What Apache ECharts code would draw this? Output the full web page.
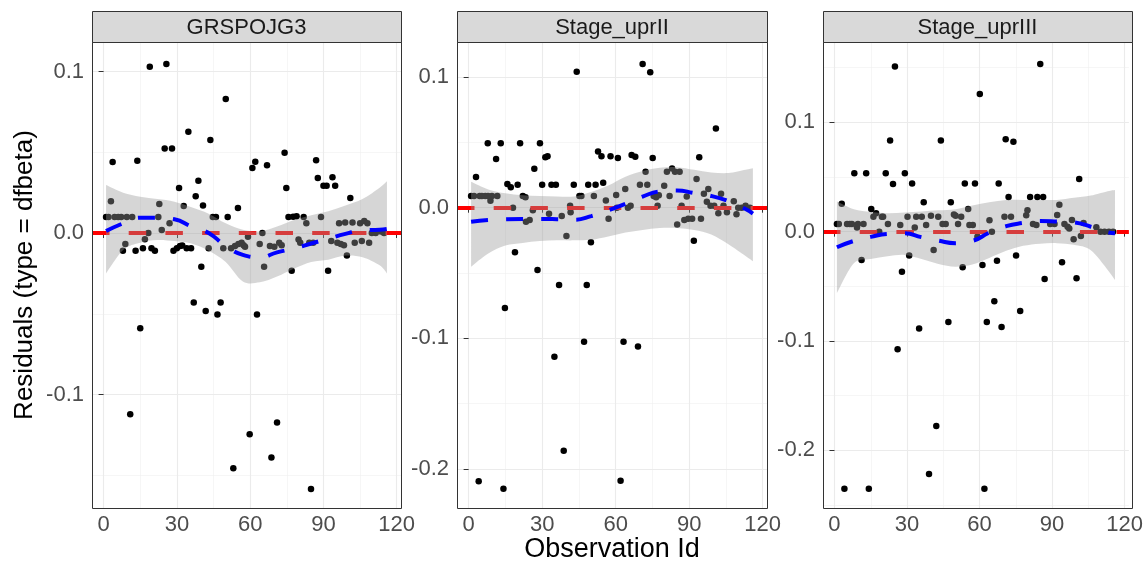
<!DOCTYPE html>
<html>
<head>
<meta charset="utf-8">
<script src="https://cdn.jsdelivr.net/npm/echarts@6/dist/echarts.min.js"></script>
<style>
html,body{margin:0;padding:0;background:#fff;}
#chart{width:1146px;height:565px;}
</style>
</head>
<body>
<div id="chart"></div>
<script>
// ---------- data ----------
const panelTitles = ['GRSPOJG3', 'Stage_uprII', 'Stage_uprIII'];
const xTicks = [0, 30, 60, 90, 120];
const xMinorTicks = [15, 45, 75, 105];
const xLimits = [-4.75, 121.75];

const yLimits1 = [-0.1703, 0.1183];
const yLimits2 = [-0.2298, 0.1268];
const yLimits3 = [-0.2528, 0.1735];
const yTicks1 = [-0.1, 0, 0.1];
const yTicks2 = [-0.2, -0.1, 0, 0.1];
const yTicks3 = [-0.2, -0.1, 0, 0.1];
const yMinor1 = [-0.15, -0.05, 0.05];
const yMinor2 = [-0.15, -0.05, 0.05];
const yMinor3 = [-0.25, -0.15, -0.05, 0.05, 0.15];

const points1 = [
[18.9,0.103],[25.7,0.1046],[50,0.083],[34.7,0.0627],[43.7,0.0576],[25,0.0524],[28,0.0524],[3.7,0.044],[13.8,0.0448],[74.1,0.0497],
[62.1,0.0442],[60.9,0.0402],[66.9,0.042],[87,0.045],[87.7,0.034],[93.7,0.0345],[90,0.0293],[91.3,0.0293],[94.8,0.0293],[101,0.0217],
[74.8,0.0279],[30.9,0.0279],[37.7,0.0227],[38.8,0.0324],[40.7,0.0171],[32.8,0.0167],[22.8,0.018],[3,0.0196],[55,0.0155],[50.8,0.0099],
[1,0.0099],[2,0.0099],[4.5,0.0099],[6,0.0099],[7.2,0.0099],[9.5,0.0099],[11.7,0.0099],
[22.4,0.0099],[44.7,0.0099],[46,0.0099],[75.7,0.0099],[77.6,0.0101],[79,0.0104],[81.9,0.0099],[89,0.0099],
[27,0.006],[23.8,0.0019],[18.3,0],[83,0.006],
[96.4,0.006],[98.9,0.0065],[101.9,0.0065],[105,0.006],[106.7,0.0075],[108,0.006],
[109.8,0],[111.4,0],[113.5,0.001],[114.8,0],[65,0],[59.1,-0.0023],
[7.9,-0.011],[8.9,-0.0068],[13.1,-0.011],[16.1,-0.0095],[16.9,-0.0039],[19.6,-0.0095],[21,-0.011],
[28.6,-0.011],[30,-0.0095],[31.3,-0.008],[32.2,-0.0078],[34,-0.0095],[35.8,-0.0095],[43,-0.0095],
[49,-0.0095],[52.2,-0.0095],[53.8,-0.008],[55.2,-0.0068],[56.5,-0.006],[57.3,-0.0075],[57.9,-0.0085],
[63.9,-0.0068],[68.1,-0.008],[69.9,-0.0085],[71.9,-0.006],[72.9,-0.0075],
[79.8,-0.004],[80.5,-0.006],[84.2,-0.006],[85.8,-0.006],
[93.2,-0.005],[95.7,-0.006],[97.1,-0.0068],[98.4,-0.0075],
[102.8,-0.006],[105.7,-0.005],[108.7,-0.006],
[99.6,-0.014],[40,-0.0209],[65.7,-0.0209],[77,-0.0233],[91.9,-0.0233],
[36.9,-0.0431],[47.9,-0.0431],[41.8,-0.0483],[46.6,-0.0504],[62.8,-0.0504],[15,-0.059],
[10.9,-0.1123],[71,-0.1174],[59.8,-0.1247],[68.7,-0.139],[53.1,-0.1457],[84.9,-0.1585]
];

const points2 = [
[71,0.11],[74.1,0.1036],[44.1,0.104],[100.9,0.0607],
[7.8,0.0493],[13.1,0.0493],[21,0.0493],[29.1,0.0493],[11.2,0.0373],[31.3,0.0386],[32.2,0.0393],[3,0.0235],[26.8,0.0298],
[52.8,0.0431],[54.2,0.0393],[57.9,0.0393],[60.9,0.038],[66.5,0.0403],[68,0.039],[75.1,0.038],[94.1,0.0386],
[15.8,0.0181],[17.2,0.0156],[20,0.0176],[30,0.0176],[33.8,0.0176],[35.6,0.0176],[42.9,0.0176],[48.8,0.0176],[51.8,0.0176],[54.9,0.019],
[72.2,0.0275],[69.9,0.0176],[72.9,0.0176],[63.9,0.0143],[79.8,0.0168],[80.9,0.0275],[83,0.03],[84.2,0.0275],[86.1,0.0275],[93,0.022],[97.8,0.0143],
[60.2,0.0097],[56,0.0056],[51.1,0.009],[45.2,0.009],[46,0.009],[41.6,-0.0035],[41.4,0.0015],[22.1,0.009],[23.2,0.008],
[1,0.009],[2.2,0.009],[4.5,0.009],[5.4,0.009],[6.8,0.009],[7.9,0.009],[9.5,0.009],[11.7,0.009],
[8.9,0.0053],[18.1,0],[26.2,-0.002],[23.4,-0.0107],[24.9,-0.0094],[32.8,-0.0046],[38,-0.0064],[39.9,-0.0217],[49.9,-0.0265],[18.9,-0.0341],[57.1,-0.0084],
[65,0],[66.1,0.0015],[60.5,0],[75.5,0.009],[76.5,0.008],[77.6,0.0095],[77.1,0.0015],[82,0.009],[86.9,0.0015],[89,0.0085],[85.1,-0.0128],[88,-0.0094],[89.6,-0.0084],[91.2,-0.0084],[94.8,-0.0084],[91.9,-0.0252],
[96,0.0107],[97.2,0.0046],[98.7,0.0015],[100.2,0.0015],[103,0.0107],[101.9,-0.0043],[104,0.0015],[105.4,-0.0035],[108.2,0.005],[109.3,-0.005],[110,0],[111.4,0],[113,0.0015],[114.8,0],
[28.1,-0.0477],[36.9,-0.0591],[48.2,-0.0591],[14.8,-0.0767],[47.1,-0.1025],[63.2,-0.1025],[69.1,-0.1063],[35,-0.114],[38.8,-0.186],[4.1,-0.2093],[14.2,-0.215],[62,-0.2089]
];

const points3 = [
[25,0.151],[85.1,0.1534],[60.1,0.126],[23,0.0833],[44,0.0833],[70.8,0.0845],[74,0.0823],
[8.2,0.0534],[13.1,0.0534],[21.2,0.0534],[29.1,0.0534],[24.2,0.0436],[32.1,0.044],[53.9,0.044],[58.1,0.044],[67.9,0.044],[101.2,0.0482],
[3,0.0256],[36.9,0.0269],[48.1,0.0269],[55.3,0.0208],[72,0.0317],[80.9,0.0317],[83.9,0.0317],[86.3,0.0317],[93,0.0247],
[15.2,0.0208],[17.2,0.0168],[16.1,0.0137],[19.6,0.0137],[20.1,0.0137],
[30.2,0.0137],[33.8,0.0137],[36.1,0.0137],[39.9,0.0145],[42.9,0.0137],[49.4,0.0158],[50.1,0.0145],[52.4,0.0137],
[64.1,0.0104],[70.3,0.0137],[73,0.0137],[79.8,0.0195],[79.3,0.015],[92.1,0.0152],[98.2,0.0107],
[1,0.007],[1.8,0.007],[5.2,0.007],[6.3,0.007],[7.2,0.007],[9.7,0.007],[12,0.007],[9.3,0.0037],
[22.1,0.007],[27.2,0.006],[37.9,0.006],[44.7,0.007],[46,0.007],[51.1,0.007],[55.8,0.006],[57.2,0.006],
[82.1,0.007],[83.5,0.006],[89.2,0.007],[91,0.007],[95.1,0.007],[96.4,0.0045],[97.1,0.003],[103,0.008],[108.3,0.004],
[110,0],[111.7,0],[113.5,0],[115.2,0],[18.5,0],[33.2,0.0037],[59.1,-0.0046],[65.1,0],[101.9,-0.004],[98.9,-0.007],
[41,-0.0167],[11.2,-0.0259],[30.9,-0.0219],[67.2,-0.0265],[75.1,-0.0219],[61.2,-0.0305],[94.1,-0.028],[53,-0.0326],
[27.9,-0.0366],[86.9,-0.0433],[100.1,-0.0427],[66.1,-0.0637],[76.8,-0.0726],[47.1,-0.0826],[63,-0.0826],[69.1,-0.0872],[35,-0.0887],
[26.1,-0.1076],[42.1,-0.1778],[39.1,-0.2217],[4.1,-0.2351],[14.2,-0.2351],[62,-0.2351]
];

// smoother (loess) fit and confidence band, read at these x positions
const smoothX = [1, 8, 15, 22, 29, 36, 43, 50, 57, 64, 71, 78, 85, 92, 99, 106, 113, 116];
const fit1 = [0.0012, 0.006, 0.0095, 0.0095, 0.0085, 0.004, 0.0, -0.008, -0.0135, -0.015, -0.012, -0.0095, -0.0065, -0.0035, -0.0005, 0.0017, 0.002, 0.0025];
const hi1  = [0.0297, 0.025, 0.0225, 0.021, 0.0194, 0.016, 0.012, 0.006, 0.002, 0.001, 0.004, 0.008, 0.011, 0.0135, 0.017, 0.021, 0.028, 0.032];
const lo1  = [-0.025, -0.0105, -0.006, -0.0043, -0.005, -0.0065, -0.011, -0.018, -0.03, -0.0305, -0.027, -0.022, -0.018, -0.0165, -0.014, -0.015, -0.02, -0.025];
const fit2 = [-0.0107, -0.0094, -0.0088, -0.0086, -0.0086, -0.0088, -0.0092, -0.0065, -0.002, 0.003, 0.0085, 0.0125, 0.0132, 0.0112, 0.009, 0.005, -0.001, -0.0045];
const hi2  = [0.0199, 0.014, 0.011, 0.0095, 0.009, 0.0086, 0.0086, 0.012, 0.017, 0.0237, 0.028, 0.0305, 0.031, 0.029, 0.027, 0.0265, 0.029, 0.0301];
const lo2  = [-0.0451, -0.035, -0.029, -0.027, -0.0255, -0.025, -0.025, -0.0245, -0.022, -0.019, -0.017, -0.0155, -0.0155, -0.017, -0.0205, -0.028, -0.037, -0.041];
const fit3 = [-0.0143, -0.0085, -0.0048, -0.002, -0.0015, -0.005, -0.0082, -0.0105, -0.0085, -0.001, 0.005, 0.008, 0.0098, 0.0093, 0.0085, 0.0045, -0.0005, -0.0015];
const hi3  = [0.0275, 0.0205, 0.018, 0.0168, 0.0175, 0.0185, 0.0195, 0.0205, 0.024, 0.027, 0.029, 0.029, 0.029, 0.029, 0.031, 0.033, 0.037, 0.0381];
const lo3  = [-0.0564, -0.029, -0.025, -0.0225, -0.0213, -0.025, -0.0295, -0.032, -0.03, -0.024, -0.0175, -0.013, -0.011, -0.0105, -0.012, -0.017, -0.035, -0.0442];

const xTitle = 'Observation Id';
const yTitle = 'Residuals (type = dfbeta)';

// ---------- layout ----------
const FONT = '"Liberation Sans", Arial, Helvetica, sans-serif';
const gridTop = 42, gridHeight = 466, stripTop = 11, stripH = 31;
const gridBoxes = [{left: 92, width: 309}, {left: 457, width: 310}, {left: 823, width: 309}];

const panels = [
  {title: panelTitles[0], pts: points1, fit: fit1, hi: hi1, lo: lo1, yLim: yLimits1, yT: yTicks1, yM: yMinor1},
  {title: panelTitles[1], pts: points2, fit: fit2, hi: hi2, lo: lo2, yLim: yLimits2, yT: yTicks2, yM: yMinor2},
  {title: panelTitles[2], pts: points3, fit: fit3, hi: hi3, lo: lo3, yLim: yLimits3, yT: yTicks3, yM: yMinor3}
];

// Catmull-Rom spline through pixel points -> SVG path segments
function splineSegs(pts) {
  let d = '';
  for (let i = 0; i < pts.length - 1; i++) {
    const p0 = pts[Math.max(i - 1, 0)], p1 = pts[i], p2 = pts[i + 1], p3 = pts[Math.min(i + 2, pts.length - 1)];
    const c1x = p1[0] + (p2[0] - p0[0]) / 6, c1y = p1[1] + (p2[1] - p0[1]) / 6;
    const c2x = p2[0] - (p3[0] - p1[0]) / 6, c2y = p2[1] - (p3[1] - p1[1]) / 6;
    d += ' C ' + c1x + ' ' + c1y + ' ' + c2x + ' ' + c2y + ' ' + p2[0] + ' ' + p2[1];
  }
  return d;
}

const grid = [], xAxis = [], yAxis = [], series = [], graphic = [];

panels.forEach((p, i) => {
  const g = gridBoxes[i];
  grid.push({left: g.left, top: gridTop, width: g.width, height: gridHeight, containLabel: false});
  xAxis.push({
    type: 'value', gridIndex: i, min: xLimits[0], max: xLimits[1],
    splitLine: {show: false}, axisLine: {show: false},
    axisTick: {show: true, length: 5, lineStyle: {color: '#333333', width: 1}, customValues: xTicks},
    axisLabel: {show: true, customValues: xTicks, color: '#4D4D4D', fontSize: 22, fontFamily: FONT, margin: 6,
      formatter: v => String(Math.round(v))}
  });
  yAxis.push({
    type: 'value', gridIndex: i, min: p.yLim[0], max: p.yLim[1],
    splitLine: {show: false}, axisLine: {show: false},
    axisTick: {show: true, length: 5, lineStyle: {color: '#333333', width: 1}, customValues: p.yT},
    axisLabel: {show: true, customValues: p.yT, color: '#4D4D4D', fontSize: 22, fontFamily: FONT, margin: 8,
      formatter: v => (Math.abs(v) < 1e-9 ? 0 : v).toFixed(1)}
  });

  const majorStyle = {color: '#EBEBEB', width: 1.1, type: 'solid'};
  const minorStyle = {color: '#F0F0F0', width: 0.6, type: 'solid'};
  const gridLines = []
    .concat(xMinorTicks.map(v => ({xAxis: v, lineStyle: minorStyle})))
    .concat(p.yM.map(v => ({yAxis: v, lineStyle: minorStyle})))
    .concat(xTicks.map(v => ({xAxis: v, lineStyle: majorStyle})))
    .concat(p.yT.map(v => ({yAxis: v, lineStyle: majorStyle})));

  // grid lines
  series.push({
    type: 'line', xAxisIndex: i, yAxisIndex: i, data: [], silent: true, z: 0,
    markLine: {silent: true, z: 0, symbol: ['none', 'none'], label: {show: false}, animation: false,
      emphasis: {disabled: true}, data: gridLines}
  });
  // points
  series.push({
    type: 'scatter', xAxisIndex: i, yAxisIndex: i, data: p.pts, symbolSize: 6.5, silent: true, z: 2,
    itemStyle: {color: '#000000', opacity: 1}
  });
  // zero reference line
  series.push({
    type: 'line', xAxisIndex: i, yAxisIndex: i, data: [], silent: true, z: 3,
    markLine: {silent: true, z: 3, symbol: ['none', 'none'], label: {show: false}, animation: false,
      emphasis: {disabled: true},
      lineStyle: {color: '#FF0000', width: 4.2, type: [17.5, 19.2], cap: 'butt'},
      data: [{yAxis: 0}]}
  });
  // confidence band (custom polygon between lower and upper bound)
  const bandData = smoothX.map((x, k) => [x, p.lo[k], p.hi[k]]);
  series.push({
    type: 'custom', xAxisIndex: i, yAxisIndex: i, silent: true, z: 4,
    data: [0],
    renderItem: function (params, api) {
      const up = bandData.map(r => api.coord([r[0], r[2]]));
      const dn = bandData.map(r => api.coord([r[0], r[1]])).reverse();
      let d = 'M ' + up[0][0] + ' ' + up[0][1] + splineSegs(up);
      d += ' L ' + dn[0][0] + ' ' + dn[0][1] + splineSegs(dn) + ' Z';
      return {
        type: 'path',
        shape: {pathData: d},
        style: {fill: 'rgba(153,153,153,0.4)', stroke: 'none'}
      };
    }
  });
  // fitted smooth
  series.push({
    type: 'line', xAxisIndex: i, yAxisIndex: i, smooth: true, silent: true, z: 5,
    data: smoothX.map((x, k) => [x, p.fit[k]]), showSymbol: false, symbol: 'none',
    lineStyle: {color: '#0000FF', width: 4, type: [17, 18], cap: 'butt'}
  });

  // strip and panel border
  graphic.push({type: 'rect', z: 100, shape: {x: g.left + 0.5, y: stripTop + 0.5, width: g.width, height: stripH},
    style: {fill: '#D9D9D9', stroke: '#333333', lineWidth: 1}, silent: true});
  graphic.push({type: 'text', z: 101, x: g.left + g.width / 2, y: stripTop + stripH / 2 + 1,
    style: {text: p.title, fill: '#1A1A1A', font: '22px ' + FONT, textAlign: 'center', textVerticalAlign: 'middle'}, silent: true});
  graphic.push({type: 'rect', z: 100, shape: {x: g.left + 0.5, y: gridTop + 0.5, width: g.width, height: gridHeight},
    style: {fill: 'none', stroke: '#333333', lineWidth: 1}, silent: true});
});

graphic.push({type: 'text', z: 101, x: 612, y: 550,
  style: {text: xTitle, fill: '#000000', font: '27px ' + FONT, textAlign: 'center', textVerticalAlign: 'middle'}, silent: true});
graphic.push({type: 'text', z: 101, x: 25, y: 275, rotation: Math.PI / 2,
  style: {text: yTitle, fill: '#000000', font: '26px ' + FONT, textAlign: 'center', textVerticalAlign: 'middle'}, silent: true});

const chart = echarts.init(document.getElementById('chart'), null, {renderer: 'canvas'});
chart.setOption({
  animation: false,
  backgroundColor: '#FFFFFF',
  grid, xAxis, yAxis, series, graphic
});
</script>
</body>
</html>
